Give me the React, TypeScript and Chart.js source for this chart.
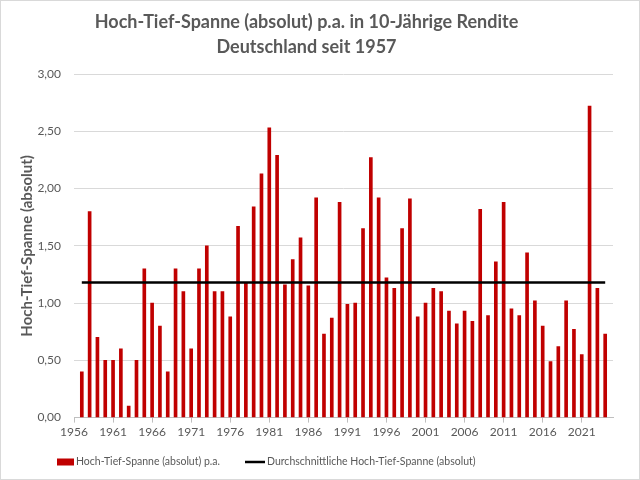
import React, { useEffect, useRef } from "react";
import { Chart, registerables } from "chart.js";

Chart.register(...registerables);

const years: number[] = [
  1957, 1958, 1959, 1960, 1961, 1962, 1963, 1964, 1965, 1966, 1967, 1968, 1969, 1970,
  1971, 1972, 1973, 1974, 1975, 1976, 1977, 1978, 1979, 1980, 1981, 1982, 1983, 1984,
  1985, 1986, 1987, 1988, 1989, 1990, 1991, 1992, 1993, 1994, 1995, 1996, 1997, 1998,
  1999, 2000, 2001, 2002, 2003, 2004, 2005, 2006, 2007, 2008, 2009, 2010, 2011, 2012,
  2013, 2014, 2015, 2016, 2017, 2018, 2019, 2020, 2021, 2022, 2023, 2024,
];

const spanValues: number[] = [
  0.4, 1.8, 0.7, 0.5, 0.5, 0.6, 0.1, 0.5, 1.3, 1.0, 0.8, 0.4, 1.3, 1.1,
  0.6, 1.3, 1.5, 1.1, 1.1, 0.88, 1.67, 1.18, 1.84, 2.13, 2.53, 2.29, 1.16, 1.38,
  1.57, 1.15, 1.92, 0.73, 0.87, 1.88, 0.99, 1.0, 1.65, 2.27, 1.92, 1.22, 1.13, 1.65,
  1.91, 0.88, 1.0, 1.13, 1.1, 0.93, 0.82, 0.93, 0.84, 1.82, 0.89, 1.36, 1.88, 0.95,
  0.89, 1.44, 1.02, 0.8, 0.49, 0.62, 1.02, 0.77, 0.55, 2.72, 1.13, 0.73,
];

const averageValue = 1.18;

const tickYears: number[] = [1956, 1961, 1966, 1971, 1976, 1981, 1986, 1991, 1996, 2001, 2006, 2011, 2016, 2021];

const titleLines: string[] = [
  "Hoch-Tief-Spanne (absolut) p.a. in 10-Jährige Rendite",
  "Deutschland seit 1957",
];
const barLabel = "Hoch-Tief-Spanne (absolut) p.a.";
const avgLabel = "Durchschnittliche Hoch-Tief-Spanne (absolut)";
const yAxisTitle = "Hoch-Tief-Spanne (absolut)";

const FONT = "Lato, 'Open Sans', sans-serif";
const GREY = "#595959";
const RED = "#c00000";

const legendPlugin = {
  id: "bottomLegend",
  afterDraw(chart: any) {
    const ctx = chart.ctx as CanvasRenderingContext2D;
    const cy = 462;
    ctx.save();
    ctx.font = `10.5px ${FONT}`;
    ctx.textBaseline = "middle";
    ctx.textAlign = "left";
    const x1 = 57;
    ctx.fillStyle = RED;
    ctx.fillRect(x1, cy - 3.5, 17, 7);
    ctx.fillStyle = GREY;
    ctx.fillText(barLabel, x1 + 19, cy);
    const x2 = 245;
    ctx.strokeStyle = "#000000";
    ctx.lineWidth = 2.5;
    ctx.beginPath();
    ctx.moveTo(x2, cy);
    ctx.lineTo(x2 + 20, cy);
    ctx.stroke();
    ctx.fillStyle = GREY;
    ctx.fillText(avgLabel, x2 + 22, cy);
    ctx.restore();
  },
};

export default function App() {
  const canvasRef = useRef<HTMLCanvasElement | null>(null);

  useEffect(() => {
    document.body.style.margin = "0";
    const canvas = canvasRef.current;
    if (!canvas) return;
    const chart = new Chart(canvas, {
      type: "bar",
      data: {
        datasets: [
          {
            type: "bar",
            label: barLabel,
            data: years.map((y, i) => ({ x: y, y: spanValues[i] })),
            backgroundColor: RED,
            barThickness: 3,
            order: 2,
          },
          {
            type: "line",
            label: avgLabel,
            data: [
              { x: years[0], y: averageValue },
              { x: years[years.length - 1], y: averageValue },
            ],
            borderColor: "#000000",
            borderWidth: 2.5,
            pointRadius: 0,
            fill: false,
            order: 1,
          },
        ],
      } as any,
      plugins: [legendPlugin],
      options: {
        animation: false,
        responsive: false,
        maintainAspectRatio: false,
        layout: { padding: { left: 0, right: 27, top: 9, bottom: 39 } },
        plugins: {
          title: {
            display: true,
            text: titleLines,
            color: GREY,
            font: { family: FONT, size: 18, weight: "bold", lineHeight: 1.42 },
            padding: { top: 0, bottom: 14 },
          },
          legend: { display: false },
          tooltip: { enabled: false },
        },
        scales: {
          x: {
            type: "linear",
            min: 1956,
            max: 2025,
            offset: false,
            grid: {
              offset: false,
              drawOnChartArea: false,
              color: "#bfbfbf",
              tickLength: 5,
            },
            border: { color: "#bfbfbf" },
            afterBuildTicks: (axis: any) => {
              axis.ticks = tickYears.map((v) => ({ value: v }));
            },
            ticks: {
              color: GREY,
              font: { family: FONT, size: 12 },
              padding: 2,
              maxRotation: 0,
              autoSkip: false,
              callback: (v: any) => String(v),
            },
          },
          y: {
            type: "linear",
            min: 0,
            max: 3,
            afterFit: (axis: any) => {
              axis.width = 74;
            },
            ticks: {
              stepSize: 0.5,
              color: GREY,
              font: { family: FONT, size: 12 },
              padding: 13,
              callback: (v: any) => Number(v).toFixed(2).replace(".", ","),
            },
            grid: { color: "#d9d9d9", drawTicks: false },
            border: { display: false },
            title: {
              display: true,
              text: yAxisTitle,
              color: GREY,
              font: { family: FONT, size: 15, weight: "bold" },
              padding: { top: 18, bottom: 0 },
            },
          },
        },
      } as any,
    });
    return () => chart.destroy();
  }, []);

  return (
    <div style={{ position: "relative", width: 640, height: 480, background: "#fff" }}>
      <canvas ref={canvasRef} width={640} height={480} style={{ display: "block" }} />
      <div
        style={{
          position: "absolute",
          left: 0,
          top: 0,
          width: 640,
          height: 480,
          border: "1px solid #d9d9d9",
          boxSizing: "border-box",
          pointerEvents: "none",
        }}
      />
    </div>
  );
}
